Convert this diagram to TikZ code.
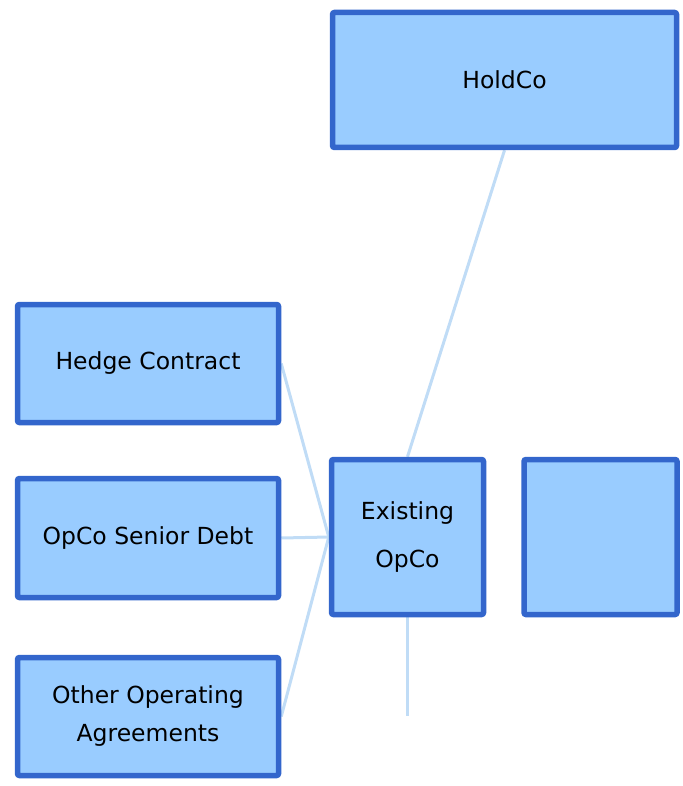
\documentclass[tikz,border=0pt]{standalone}
\usepackage{fontspec}
\setmainfont{DejaVu Sans}
\usepackage{xcolor}
\usetikzlibrary{positioning,backgrounds}
\definecolor{boxfill}{RGB}{153, 204, 255}
\definecolor{boxline}{RGB}{51, 102, 204}
\definecolor{linkblue}{RGB}{192, 220, 246}

\begin{document}
\begin{tikzpicture}[
        x=1pt, y=-1pt,
        font=\fontsize{23.5}{28}\selectfont,
        entity/.style={draw=boxline, fill=boxfill, line width=5.5pt, rounded corners=2pt,
            inner sep=0pt, align=center, text=black},
        link/.style={draw=linkblue, line width=3pt}
    ]
        \useasboundingbox (0,0) rectangle (682,786);

        % Nodes
        \node[entity, minimum width=344pt, minimum height=135pt] (holdco) at (504.5,80) {HoldCo};
        \node[entity, minimum width=152pt, minimum height=155pt,
            font=\fontsize{23.5}{48}\selectfont] (opco) at (407.5,537) {Existing\\OpCo};
        \node[entity, minimum width=153pt, minimum height=155pt, right=35pt of opco] (spare) {};

        \node[entity, minimum width=261pt, minimum height=118pt] (hedge) at (148,363.5) {Hedge Contract};
        \node[entity, minimum width=261pt, minimum height=119pt] (senior) at (148,538) {OpCo Senior Debt};
        \node[entity, minimum width=261pt, minimum height=118pt,
            font=\fontsize{23.5}{38}\selectfont] (other) at (148,716.5) {Other Operating\\Agreements};

        \coordinate (tail) at (opco.south |- 0,716);

        % Connectors
        \begin{scope}[on background layer]
            \draw[link] (holdco.south) -- (opco.north);
            \draw[link] (hedge.east) -- (opco.west);
            \draw[link] (senior.east) -- (opco.west);
            \draw[link] (other.east) -- (opco.west);
            \draw[link] (opco.south) -- (tail);
        \end{scope}

    \end{tikzpicture}
\end{document}
